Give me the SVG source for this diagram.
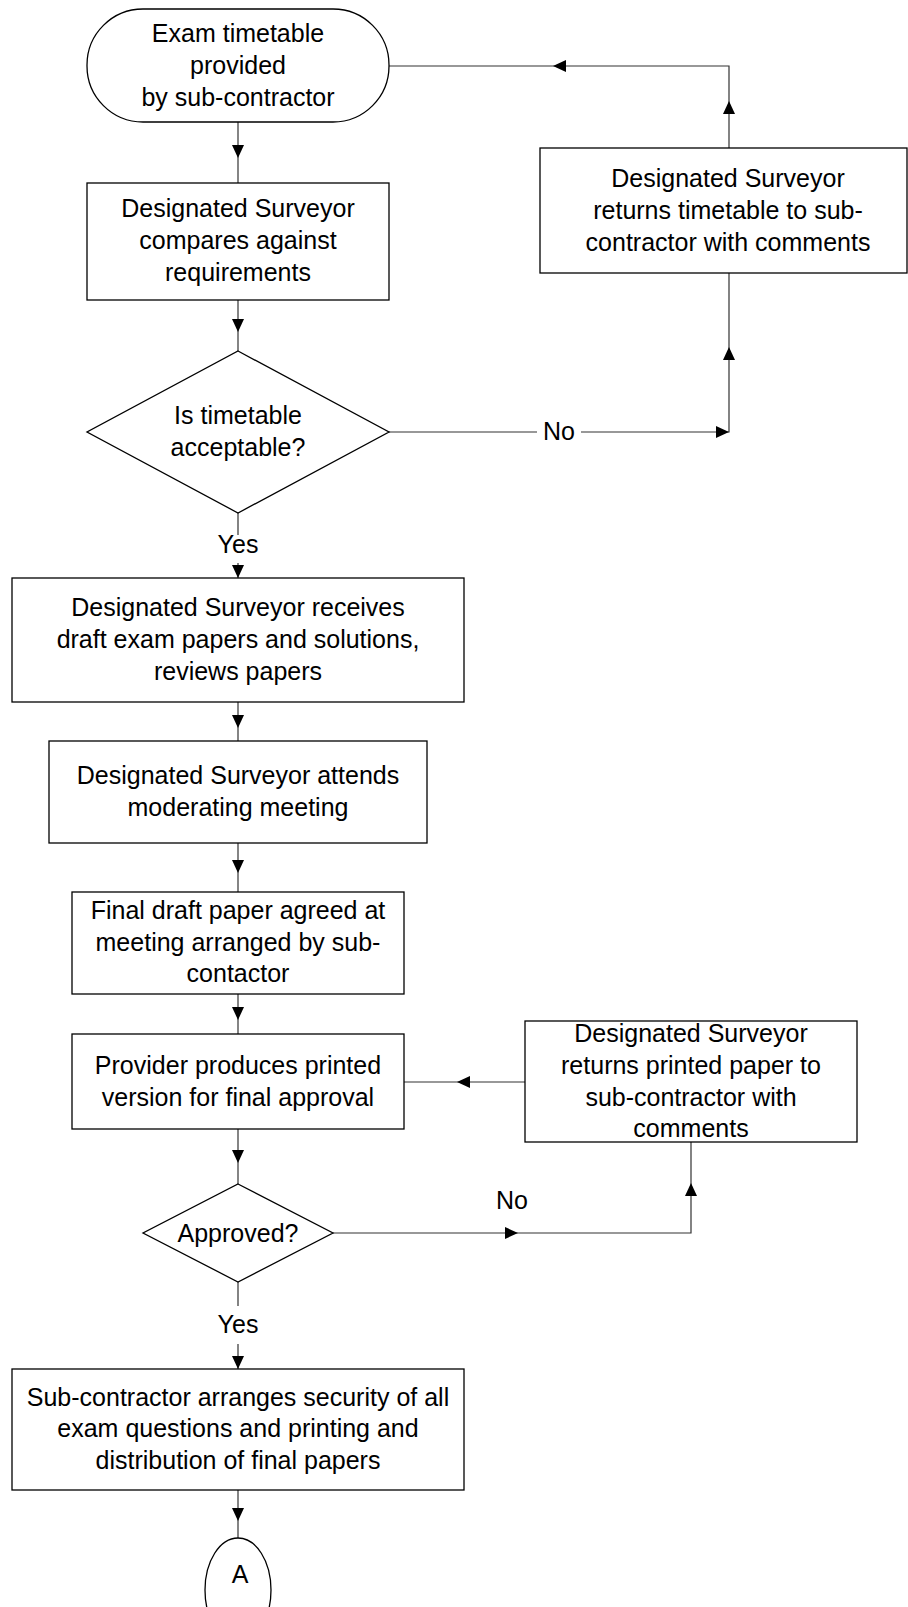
<svg xmlns="http://www.w3.org/2000/svg" xmlns:xlink="http://www.w3.org/1999/xlink" width="908" height="1607" viewBox="0 0 908 1607">
<style>
.shape{fill:#fff;stroke:#000;stroke-width:1.3}
.conn{fill:none;stroke:#333;stroke-width:1.2}
.t{font-family:"Liberation Sans",Arial,sans-serif;font-size:25px;fill:#000;text-anchor:middle}
</style>
<defs>
<path id="ah" d="M0,0 L-13,-6 L-13,6 Z" fill="#000"/>
</defs>
<g id="connectors">
<path class="conn" d="M238,122 V183"/><use xlink:href="#ah" transform="translate(238,158) rotate(90)"/>
<path class="conn" d="M238,300 V351"/><use xlink:href="#ah" transform="translate(238,332) rotate(90)"/>
<path class="conn" d="M238,513 V535 M238,563 V578"/><use xlink:href="#ah" transform="translate(238,578) rotate(90)"/>
<text class="t" x="238" y="553">Yes</text>
<path class="conn" d="M389,432 H537 M581,432 H729 V273"/><use xlink:href="#ah" transform="translate(729,432)"/><use xlink:href="#ah" transform="translate(729,347) rotate(-90)"/>
<text class="t" x="559" y="440">No</text>
<path class="conn" d="M729,148 V66 H389"/><use xlink:href="#ah" transform="translate(729,101) rotate(-90)"/><use xlink:href="#ah" transform="translate(553,66) rotate(180)"/>
<path class="conn" d="M238,702 V741"/><use xlink:href="#ah" transform="translate(238,728) rotate(90)"/>
<path class="conn" d="M238,843 V892"/><use xlink:href="#ah" transform="translate(238,873) rotate(90)"/>
<path class="conn" d="M238,994 V1034"/><use xlink:href="#ah" transform="translate(238,1020) rotate(90)"/>
<path class="conn" d="M238,1129 V1184"/><use xlink:href="#ah" transform="translate(238,1163) rotate(90)"/>
<path class="conn" d="M333,1233 H691 V1142"/><use xlink:href="#ah" transform="translate(518,1233)"/><use xlink:href="#ah" transform="translate(691,1183) rotate(-90)"/>
<text class="t" x="512" y="1209">No</text>
<path class="conn" d="M525,1082 H404"/><use xlink:href="#ah" transform="translate(457,1082) rotate(180)"/>
<path class="conn" d="M238,1282 V1306 M238,1344 V1369"/><use xlink:href="#ah" transform="translate(238,1369) rotate(90)"/>
<text class="t" x="238" y="1333">Yes</text>
<path class="conn" d="M238,1490 V1538"/><use xlink:href="#ah" transform="translate(238,1521) rotate(90)"/>
</g>
<g id="start">
<rect class="shape" x="87" y="9" width="302" height="113" rx="56" ry="56"/>
<text class="t" x="238" y="42">Exam timetable</text>
<text class="t" x="238" y="74">provided</text>
<text class="t" x="238" y="106">by sub-contractor</text>
</g>
<g id="compare">
<rect class="shape" x="87" y="183" width="302" height="117"/>
<text class="t" x="238" y="217">Designated Surveyor</text>
<text class="t" x="238" y="249">compares against</text>
<text class="t" x="238" y="281">requirements</text>
</g>
<g id="return-timetable">
<rect class="shape" x="540" y="148" width="367" height="125"/>
<text class="t" x="728" y="187">Designated Surveyor</text>
<text class="t" x="728" y="219">returns timetable to sub-</text>
<text class="t" x="728" y="251">contractor with comments</text>
</g>
<g id="acceptable">
<polygon class="shape" points="238,351 389,432 238,513 87,432"/>
<text class="t" x="238" y="424">Is timetable</text>
<text class="t" x="238" y="456">acceptable?</text>
</g>
<g id="receives">
<rect class="shape" x="12" y="578" width="452" height="124"/>
<text class="t" x="238" y="616">Designated Surveyor receives</text>
<text class="t" x="238" y="648">draft exam papers and solutions,</text>
<text class="t" x="238" y="680">reviews papers</text>
</g>
<g id="attends">
<rect class="shape" x="49" y="741" width="378" height="102"/>
<text class="t" x="238" y="784">Designated Surveyor attends</text>
<text class="t" x="238" y="816">moderating meeting</text>
</g>
<g id="final-draft">
<rect class="shape" x="72" y="892" width="332" height="102"/>
<text class="t" x="238" y="919">Final draft paper agreed at</text>
<text class="t" x="238" y="951">meeting arranged by sub-</text>
<text class="t" x="238" y="982">contactor</text>
</g>
<g id="printed">
<rect class="shape" x="72" y="1034" width="332" height="95"/>
<text class="t" x="238" y="1074">Provider produces printed</text>
<text class="t" x="238" y="1106">version for final approval</text>
</g>
<g id="return-printed">
<rect class="shape" x="525" y="1021" width="332" height="121"/>
<text class="t" x="691" y="1042">Designated Surveyor</text>
<text class="t" x="691" y="1074">returns printed paper to</text>
<text class="t" x="691" y="1106">sub-contractor with</text>
<text class="t" x="691" y="1137">comments</text>
</g>
<g id="approved">
<polygon class="shape" points="238,1184 333,1233 238,1282 143,1233"/>
<text class="t" x="238" y="1242">Approved?</text>
</g>
<g id="security">
<rect class="shape" x="12" y="1369" width="452" height="121"/>
<text class="t" x="238" y="1406">Sub-contractor arranges security of all</text>
<text class="t" x="238" y="1437">exam questions and printing and</text>
<text class="t" x="238" y="1469">distribution of final papers</text>
</g>
<g id="connector-A">
<ellipse class="shape" cx="238" cy="1590" rx="33" ry="52"/>
<text class="t" x="240" y="1583">A</text>
</g>
</svg>
